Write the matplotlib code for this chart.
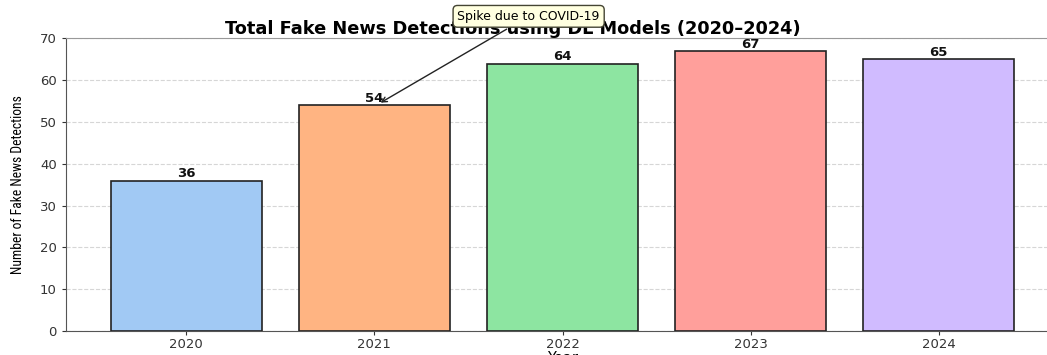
import matplotlib
matplotlib.use("Agg")
import matplotlib.pyplot as plt
from matplotlib import font_manager

years = ["2020", "2021", "2022", "2023", "2024"]
detections = [36, 54, 64, 67, 65]
colors = ["#a1c9f4", "#ffb482", "#8de5a1", "#ff9f9b", "#d0bbff"]
title = "Total Fake News Detections using DL Models (2020–2024)"
annotation_text = "Spike due to COVID-19"

names = {f.name for f in font_manager.fontManager.ttflist}
narrow = None
for cand in ["Liberation Sans Narrow", "DejaVu Sans Condensed", "Roboto Condensed",
             "Open Sans Condensed", "Noto Sans Condensed"]:
    if cand in names:
        narrow = cand
        break

fig = plt.figure(figsize=(10.47, 3.55), dpi=100)
ax = fig.add_axes([0.063, 0.0676, 0.9485, 0.824])

x = list(range(len(years)))
ax.bar(x, detections, width=0.8, color=colors, edgecolor="#222222", linewidth=1.2, zorder=3)
ax.set_xlim(-0.64, 4.64)
ax.set_ylim(0, 70)
ax.set_xticks(x)
ax.set_xticklabels(years)
ax.set_yticks(range(0, 71, 10))
ax.tick_params(axis="both", labelsize=9.5, colors="#333333", length=3)
ax.tick_params(axis="x", pad=2)
ax.grid(axis="y", linestyle="--", color="#cccccc", alpha=0.8, zorder=0)
for s in ax.spines.values():
    s.set_color("#555555")
ax.spines["top"].set_color("#999999")

for xi, v in zip(x, detections):
    ax.text(xi, v + 0.1, str(v), ha="center", va="bottom", fontsize=9.5, fontweight="bold", color="#111111")

ax.set_title(title, fontsize=12.8, fontweight="bold", pad=3, x=0.45)
ax.set_xlabel("Year", fontsize=10.5, labelpad=0)
if narrow:
    ax.set_ylabel("Number of Fake News Detections", fontsize=9.8, family=narrow, labelpad=11)
else:
    ax.set_ylabel("Number of Fake News Detections", fontsize=8, labelpad=12)

ax.annotate(annotation_text, xy=(1.02, 54.3), xytext=(1.82, 75.3),
            textcoords="data", ha="center", va="center", fontsize=9,
            bbox=dict(boxstyle="round,pad=0.35", fc="#ffffe0", ec="#444433", lw=1),
            arrowprops=dict(arrowstyle="->", color="#222222", lw=1),
            annotation_clip=False, zorder=5)

fig.savefig("out.png", dpi=100)
